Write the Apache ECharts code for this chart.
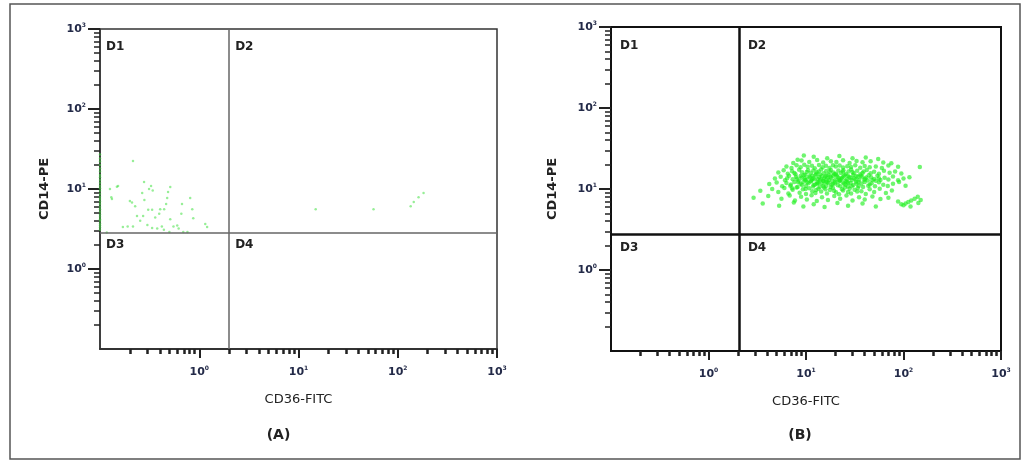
<!doctype html>
<html>
<head>
  <meta charset="utf-8">
  <title>CD36-FITC / CD14-PE</title>
  <script src="https://cdn.jsdelivr.net/npm/echarts@6/dist/echarts.min.js"></script>
  <style>
    html, body { margin: 0; padding: 0; background: #fff; }
    #main { width: 1023px; height: 462px; }
  </style>
</head>
<body>
<div id="main"></div>
<script>
  // axis ticks (log decades)
  var majorTicks = [1, 10, 100, 1000];
  var minorTicks = [0.2, 0.3, 0.4, 0.5, 0.6, 0.7, 0.8, 0.9,
    2, 3, 4, 5, 6, 7, 8, 9,
    20, 30, 40, 50, 60, 70, 80, 90,
    200, 300, 400, 500, 600, 700, 800, 900];
  var quadNames = ['D1', 'D2', 'D3', 'D4'];
  var panelNames = ['(A)', '(B)'];

  // quadrant gates [CD36, CD14]
  var gateA = [2.0, 2.8];
  var gateB = [2.05, 2.8];

  // panel A events [CD36-FITC, CD14-PE]
  var eventsA = [
    [0.215, 22.4], [0.126, 10], [0.152, 10.9], [0.132, 7.5], [0.278, 12.2], [0.327, 10.9],
    [0.312, 10], [0.266, 8.9], [0.51, 10.6], [0.485, 9.2], [0.475, 7.7], [0.2, 7.1],
    [0.226, 6.1], [0.306, 5.5], [0.335, 5.5], [0.395, 4.9], [0.443, 5.6], [0.464, 6.5],
    [0.67, 6.5], [0.81, 7.7], [0.85, 5.6], [0.87, 4.3], [0.66, 4.9], [0.6, 3.5],
    [0.51, 4.2], [0.55, 3.4], [0.42, 3.4], [0.44, 3.1], [0.377, 3.2], [0.335, 3.25],
    [0.3, 3.55], [0.254, 4.0], [0.236, 4.6], [0.272, 4.6], [0.19, 3.4], [0.17, 3.35],
    [0.215, 3.4], [0.69, 2.9], [0.76, 2.9], [1.2, 3.35], [1.15, 3.65], [0.404, 5.6],
    [0.117, 2.85], [0.148, 10.7], [0.13, 7.9], [0.34, 9.6], [0.21, 6.8], [0.62, 3.2],
    [0.28, 7.3], [0.36, 4.4], [0.5, 2.9],
    [0.1, 27], [0.1, 24], [0.1, 22], [0.1, 20], [0.1, 18], [0.1, 16.5], [0.1, 15], [0.1, 14],
    [0.1, 13], [0.1, 12], [0.1, 11], [0.1, 10.2], [0.1, 9.5], [0.1, 8.7], [0.1, 8], [0.1, 7.5],
    [0.1, 7], [0.1, 6.5], [0.1, 6], [0.1, 5.6], [0.1, 5.2], [0.1, 4.8], [0.1, 4.5], [0.1, 4.2],
    [0.1, 4], [0.1, 3.7], [0.1, 3.5], [0.1, 3.3], [0.1, 3.1],
    [14.9, 5.6], [57, 5.6], [145, 6.9], [162, 7.9], [182, 8.9], [135, 6.1]
  ];

  // panel B events [CD36-FITC, CD14-PE]
  var eventsB = [
    [9.5, 26], [12, 25], [16.5, 24], [22, 25.5], [30, 24], [41, 24.5], [55, 23.5], [8.2, 23],
    [7.4, 21], [9, 22.5], [10.8, 21.5], [13, 22.8], [15, 21.2], [18, 22], [20.5, 21.5], [24, 22.6],
    [28, 21], [33, 22.2], [38, 21.4], [46, 22], [62, 21.3], [75, 20.8], [147, 18.7],
    [6.3, 19], [7.1, 18.2], [8, 19.6], [8.8, 18.5], [9.6, 19.9], [10.4, 18.8], [11.5, 19.4], [12.3, 18.1],
    [13.6, 19.8], [14.8, 18.6], [16, 19.3], [17.4, 18.2], [18.9, 19.7], [20.2, 18.9], [22.1, 19.5], [24, 18.4],
    [26.5, 19.1], [29, 18.7], [32, 19.6], [36, 18.3], [40, 19.2], [45, 18.6], [52, 19], [60, 18.2],
    [70, 19.5], [88, 18.8],
    [5.2, 16], [5.9, 17], [6.5, 15.4], [7.2, 16.6], [7.8, 15.2], [8.5, 17.3], [9.1, 16.1], [9.8, 15],
    [10.5, 17], [11.2, 15.8], [11.9, 16.9], [12.7, 15.3], [13.5, 16.4], [14.3, 17.4], [15.2, 15.6], [16.1, 16.7],
    [17, 15.1], [18, 17.2], [19.1, 16], [20.3, 15.4], [21.5, 16.9], [22.8, 15.8], [24.2, 17.1], [25.6, 15.3],
    [27.3, 16.4], [29, 17.4], [31, 15.7], [33.5, 16.8], [36, 15.2], [39, 16.5], [42, 17.2], [46, 15.6],
    [50, 16.3], [56, 15.4], [63, 16.8], [72, 15.9], [82, 16.5], [95, 15.5],
    [4.8, 13.5], [5.5, 14.2], [6.1, 12.8], [6.7, 14.6], [7.3, 13.2], [7.9, 14.1], [8.4, 12.7], [9, 13.8],
    [9.5, 14.8], [10.1, 13.1], [10.7, 14.3], [11.3, 12.6], [11.9, 13.7], [12.5, 14.9], [13.2, 13.3], [13.9, 12.8],
    [14.6, 14.4], [15.4, 13.5], [16.2, 14.7], [17.1, 12.9], [18, 13.9], [19, 14.6], [20, 13.1], [21.1, 14.2],
    [22.3, 12.7], [23.5, 13.8], [24.8, 14.8], [26.2, 13.2], [27.7, 14.1], [29.3, 12.9], [31, 13.6], [33, 14.5],
    [35.2, 13], [37.6, 14.2], [40.3, 13.4], [43, 12.7], [46.5, 14], [50, 13.3], [54, 14.6], [58, 12.9],
    [64, 13.8], [70, 13.1], [78, 14.3], [88, 12.8], [100, 13.5], [115, 14],
    [6.4, 13.6], [8.1, 13.4], [9.8, 12.9], [11, 14], [12.2, 13.2], [13.6, 14.1], [15, 12.6], [16.6, 13.6],
    [18.5, 12.6], [20.6, 14.8], [23, 13.4], [25.5, 12.6], [28.5, 13.7], [32, 13.1], [36.5, 14.6], [41.5, 13.9],
    [48, 12.8], [56, 13.6],
    [7.6, 15.8], [8.8, 14.5], [10.2, 16.2], [11.6, 14.6], [12.9, 16.1], [14, 15.1], [15.8, 14.2], [17.5, 16.3],
    [19.6, 15.2], [21.8, 13.6], [23.8, 16.4], [26.8, 14.6], [30, 16.2], [34, 14.1], [38, 15.8], [44, 14.8],
    [8.3, 12.1], [9.7, 13.5], [11.5, 13.1], [13, 11.6], [14.2, 13.2], [16, 12.2], [17.8, 14.3], [19.8, 11.8],
    [22, 12.9], [24.2, 14.3], [27, 11.9], [30.4, 14.8], [34.5, 12.2], [39.5, 12.9], [45, 11.4], [52, 12.6],
    [7.2, 10.2], [9.9, 10], [12.7, 9.7], [15.8, 9.9], [19.4, 9.5], [24, 9.6], [28, 10.1], [33.5, 9.3],
    [4.2, 11.5], [5, 12], [5.7, 10.8], [6.3, 11.9], [6.9, 11], [7.6, 12.2], [8.2, 10.6], [8.8, 11.6],
    [9.4, 12.3], [10, 10.9], [10.6, 11.8], [11.2, 12.4], [11.8, 10.7], [12.4, 11.4], [13.1, 12.1], [13.8, 10.6],
    [14.5, 11.7], [15.3, 12.4], [16.1, 11], [17, 11.9], [17.9, 10.6], [18.9, 11.5], [20, 12.3], [21.2, 11.1],
    [22.5, 10.8], [23.9, 12], [25.4, 11.3], [27, 10.7], [28.7, 11.9], [30.5, 11.2], [32.5, 12.3], [34.7, 10.9],
    [37, 11.7], [40, 12.2], [43.5, 11], [47, 11.8], [51, 10.8], [56, 12.1], [62, 11.3], [69, 10.9],
    [78, 11.6], [90, 12.2], [105, 11],
    [7, 11.4], [9.1, 11.2], [10.3, 12.1], [12, 11.2], [13.4, 11.9], [15, 10.9], [16.6, 12.2], [18.3, 11.3],
    [21.8, 12.4], [24.6, 11.6], [26.4, 12.3], [29.5, 10.8], [33, 11.6], [38.5, 10.6],
    [3.4, 9.5], [4.5, 10], [5.2, 9.2], [6, 10.3], [6.6, 8.8], [7.3, 9.8], [8, 10.4], [8.6, 9],
    [9.3, 9.9], [10, 8.7], [10.8, 10.2], [11.6, 9.4], [12.5, 8.9], [13.4, 10.1], [14.3, 9.3], [15.3, 10.4],
    [16.4, 8.8], [17.6, 9.7], [18.9, 10.3], [20.3, 9.1], [21.8, 8.6], [23.4, 9.9], [25.1, 10.4], [27, 9.2],
    [29, 8.8], [31.5, 9.8], [34, 10.3], [37, 9.4], [41, 8.7], [45, 9.9], [50, 9.2], [57, 10.1],
    [66, 8.9], [76, 9.6],
    [2.9, 7.8], [4.1, 8.2], [5.6, 7.6], [6.8, 8.3], [7.7, 7.2], [8.9, 8], [10.2, 7.4], [11.4, 8.4],
    [12.9, 7.1], [14.6, 7.9], [16.8, 7.3], [19.5, 8.2], [22.4, 7.6], [26, 8.3], [30, 7.2], [35, 7.9],
    [40, 7.4], [48, 8.1], [58, 7.5], [70, 7.8],
    [3.6, 6.6], [5.3, 6.2], [7.5, 6.8], [9.4, 6.1], [12, 6.5], [15.5, 6], [21, 6.7], [27, 6.2],
    [38, 6.6], [52, 6.1],
    [95, 6.5], [100, 6.3], [105, 6.6], [112, 6.9], [120, 7.2], [130, 7.6], [140, 8], [150, 7.3],
    [142, 6.7], [118, 6.1], [88, 7]
  ];

  var labelColor = '#232a48';
  var fontFam = '"DejaVu Sans", "Noto Sans", sans-serif';

  function decadeLabel(v) {
    return '{b|10}{s|' + Math.round(Math.log10(v)) + '}';
  }
  var labelRich = {
    b: { fontSize: 11, fontWeight: 'bold', color: labelColor, fontFamily: fontFam, lineHeight: 14 },
    s: { fontSize: 6, fontWeight: 'bold', color: labelColor, fontFamily: fontFam, verticalAlign: 'top', lineHeight: 14 }
  };

  // two axes per direction: one for the short minor ticks + labels, one for long decade ticks
  function makeAxes(dir, gi, lineColor, lineW, name, gap) {
    var minorAx = {
      type: 'log', gridIndex: gi, min: 0.1, max: 1000, logBase: 10,
      position: dir == 'x' ? 'bottom' : 'left',
      name: name, nameLocation: 'middle',
      nameGap: gap,
      nameTextStyle: dir == 'x'
        ? { fontSize: 13, color: '#222', fontFamily: fontFam }
        : { fontSize: 13, fontWeight: 'bold', color: '#222', fontFamily: fontFam },
      axisLine: { show: true, lineStyle: { color: lineColor, width: lineW } },
      axisTick: { show: true, customValues: minorTicks, length: dir == 'x' ? 5 : 6,
        lineStyle: { color: '#222', width: dir == 'x' ? 2.5 : 1.5 } },
      axisLabel: { show: true, customValues: majorTicks, formatter: decadeLabel, rich: labelRich,
        margin: dir == 'x' ? 16 : 14 },
      splitLine: { show: false }
    };
    var majorAx = {
      type: 'log', gridIndex: gi, min: 0.1, max: 1000, logBase: 10,
      position: dir == 'x' ? 'bottom' : 'left',
      axisLine: { show: false },
      axisTick: { show: true, customValues: majorTicks, length: dir == 'x' ? 9 : 12,
        lineStyle: { color: '#222', width: 2 } },
      axisLabel: { show: false },
      splitLine: { show: false }
    };
    return [minorAx, majorAx];
  }

  function gateLines(gate, color, w) {
    return {
      silent: true, symbol: 'none', animation: false,
      label: { show: false },
      lineStyle: { color: color, width: w, type: 'solid' },
      data: [{ xAxis: gate[0] }, { yAxis: gate[1] }]
    };
  }

  var option = {
    animation: false,
    backgroundColor: '#fff',
    grid: [
      { left: 100, top: 29, width: 397, height: 320, show: true, borderColor: '#333', borderWidth: 1.5, backgroundColor: 'transparent' },
      { left: 611, top: 27, width: 390, height: 324, show: true, borderColor: '#111', borderWidth: 2, backgroundColor: 'transparent' }
    ],
    xAxis: makeAxes('x', 0, '#333', 2, 'CD36-FITC', 44).concat(makeAxes('x', 1, '#111', 2, 'CD36-FITC', 44)),
    yAxis: makeAxes('y', 0, '#333', 1.5, 'CD14-PE', 49).concat(makeAxes('y', 1, '#111', 2, 'CD14-PE', 52)),
    series: [
      {
        type: 'scatter', xAxisIndex: 0, yAxisIndex: 0,
        symbolSize: 2.5,
        itemStyle: { color: 'rgba(70, 225, 70, 0.7)' },
        data: eventsA,
        markLine: gateLines(gateA, '#666', 1.5)
      },
      {
        type: 'scatter', xAxisIndex: 2, yAxisIndex: 2,
        symbolSize: 4.5,
        itemStyle: { color: 'rgba(30, 240, 30, 0.8)' },
        data: eventsB,
        markLine: gateLines(gateB, '#111', 2.5)
      }
    ]
  };

  var myChart = echarts.init(document.getElementById('main'));
  myChart.setOption(option);

  // outer frame, quadrant and panel labels placed from the axis scales
  var extra = [
    { type: 'rect', id: 'frame', silent: true, shape: { x: 10, y: 4, width: 1010, height: 455 },
      style: { fill: 'none', stroke: '#555', lineWidth: 1.5 } }
  ];
  [[0, gateA, 6, 12, 6, -20], [2, gateB, 9, 13, 8, -6]].forEach(function (p, k) {
    var finder = { xAxisIndex: p[0], yAxisIndex: p[0] };
    var tl = myChart.convertToPixel(finder, [0.1, 1000]);
    var br = myChart.convertToPixel(finder, [1000, 0.1]);
    var g = myChart.convertToPixel(finder, p[1]);
    var pos = [[tl[0] + p[2], tl[1] + p[3]], [g[0] + p[2], tl[1] + p[3]],
      [tl[0] + p[2], g[1] + p[4]], [g[0] + p[2], g[1] + p[4]]];
    pos.forEach(function (xy, i) {
      extra.push({ type: 'text', id: 'q' + k + i, silent: true, x: xy[0], y: xy[1],
        style: { text: quadNames[i], fill: '#222', font: 'bold 12px ' + fontFam } });
    });
    extra.push({ type: 'text', id: 'p' + k, silent: true, x: (tl[0] + br[0]) / 2 + p[5], y: 428,
      style: { text: panelNames[k], fill: '#222', font: 'bold 14px ' + fontFam, align: 'center' } });
  });
  myChart.setOption({ graphic: extra });
</script>
</body>
</html>
